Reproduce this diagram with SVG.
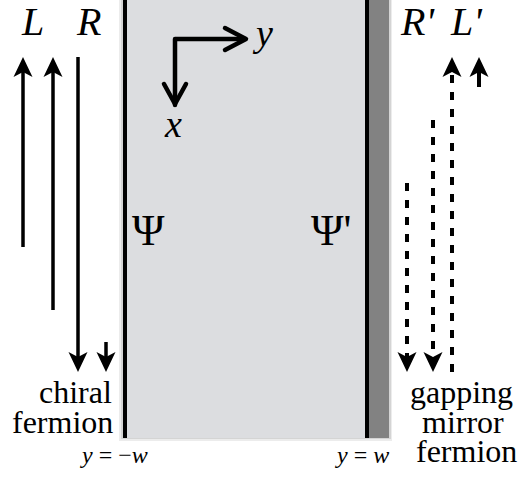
<svg xmlns="http://www.w3.org/2000/svg" width="523" height="478" viewBox="0 0 523 478">
<rect width="523" height="478" fill="#fff"/>
<g id="panel">
<rect x="119" y="-5" width="273" height="446" fill="#ececec"/>
<rect x="121" y="-5" width="270" height="444" fill="#d4d4d4"/>
<rect x="123" y="-5" width="266" height="443" fill="#dcdde0"/>
<rect x="369" y="-5" width="20" height="443" fill="#828282"/>
<line x1="125" y1="-5" x2="125" y2="438" stroke="#000" stroke-width="4"/>
<line x1="367" y1="-5" x2="367" y2="438" stroke="#000" stroke-width="4"/>
</g>
<g id="axes" stroke="#000" stroke-width="4.5" fill="none" stroke-linecap="round" stroke-linejoin="round">
<path d="M175,105 L175,39 L245,39"/>
<path d="M225,28 L246,39 L225,50"/>
<path d="M164,84 L175,104 L186,84"/>
</g>
<g id="connectors">
<g stroke="#000" stroke-width="3.5" fill="none">
<line x1="23" y1="247" x2="23" y2="70"/>
<line x1="53" y1="310" x2="53" y2="70"/>
<line x1="78" y1="57" x2="78" y2="360"/>
<line x1="106" y1="342" x2="106" y2="360"/>
</g>
<g stroke="#000" stroke-width="4" fill="none" stroke-dasharray="8 9">
<line x1="407" y1="183" x2="407" y2="360"/>
<line x1="433" y1="120" x2="433" y2="360"/>
<line x1="452" y1="372" x2="452" y2="70"/>
<line x1="479" y1="87" x2="479" y2="72" stroke-dasharray="none"/>
</g>
<g fill="#000">
<path d="M23,57 L32.5,77 L23,72 L13.5,77 Z"/>
<path d="M53,57 L62.5,77 L53,72 L43.5,77 Z"/>
<path d="M78,372 L87.5,352 L78,357 L68.5,352 Z"/>
<path d="M106,372 L115.5,352 L106,357 L96.5,352 Z"/>
<path d="M407,372 L416.5,352 L407,357 L397.5,352 Z"/>
<path d="M433,372 L442.5,352 L433,357 L423.5,352 Z"/>
<path d="M452,57 L461.5,77 L452,72 L442.5,77 Z"/>
<path d="M479,57 L488.5,77 L479,72 L469.5,77 Z"/>
</g>
</g>
<text x="256" y="46" font-family="Liberation Serif" font-style="italic" font-size="38">y</text>
<text x="165" y="137" font-family="Liberation Serif" font-style="italic" font-size="38">x</text>
<text x="22" y="35" font-family="Liberation Serif" font-style="italic" font-size="40">L</text>
<text x="77" y="35" font-family="Liberation Serif" font-style="italic" font-size="40">R</text>
<text x="401" y="35" font-family="Liberation Serif" font-style="italic" font-size="40">R'</text>
<text x="451" y="35" font-family="Liberation Serif" font-style="italic" font-size="40">L'</text>
<text x="132" y="245" font-family="Liberation Serif" font-size="44">Ψ</text>
<text x="311" y="245" font-family="Liberation Serif" font-size="44">Ψ'</text>
<text x="39" y="403" font-family="Liberation Serif" font-size="32">chiral</text>
<text x="12" y="433" font-family="Liberation Serif" font-size="32">fermion</text>
<text x="410" y="403" font-family="Liberation Serif" font-size="32">gapping</text>
<text x="422" y="433" font-family="Liberation Serif" font-size="32">mirror</text>
<text x="416" y="462" font-family="Liberation Serif" font-size="32">fermion</text>
<text x="82" y="463" font-family="Liberation Serif" font-size="24"><tspan font-style="italic">y</tspan> = −<tspan font-style="italic">w</tspan></text>
<text x="337" y="463" font-family="Liberation Serif" font-size="24"><tspan font-style="italic">y</tspan> = <tspan font-style="italic">w</tspan></text>
</svg>
